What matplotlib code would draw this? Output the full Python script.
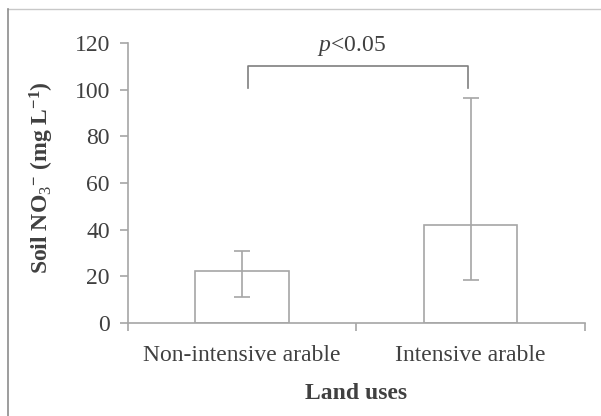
import numpy as np
import matplotlib.pyplot as plt
from matplotlib.lines import Line2D

# values
land_uses = ['Non-intensive arable', 'Intensive arable']
no3_mean = [22.3, 42.0]
err_low = [11.0, 18.4]    # lower end of error bar
err_high = [30.9, 96.4]   # upper end of error bar
y_ticks = [0, 20, 40, 60, 80, 100, 120]

grey = '#a6a6a6'
txt = '#404040'
plt.rcParams['font.family'] = ['Liberation Serif', 'DejaVu Serif']
plt.rcParams['mathtext.fontset'] = 'custom'
plt.rcParams['mathtext.rm'] = 'Liberation Serif'
plt.rcParams['mathtext.it'] = 'Liberation Serif:italic'
plt.rcParams['mathtext.bf'] = 'Liberation Serif:bold'
fs = 17

fig = plt.figure(figsize=(6.01, 4.16), dpi=100)
ax = fig.add_axes([0.213, 0.2236, 0.760, 0.673])

x = np.arange(len(land_uses))
yerr = np.array([np.array(no3_mean) - np.array(err_low),
                 np.array(err_high) - np.array(no3_mean)])
ax.bar(x, no3_mean, width=0.41, color='white', edgecolor=grey, linewidth=1.2, zorder=2)
ax.errorbar(x, no3_mean, yerr=yerr, fmt='none', ecolor=grey, elinewidth=1.2,
            capsize=6, capthick=1.2, zorder=3)

ax.set_xlim(-0.5, 1.5)
ax.set_ylim(0, 120)
ax.set_yticks(y_ticks)
ax.set_xticks(x)
ax.set_xticklabels(land_uses)
ax.set_xticks([-0.5, 0.5, 1.5], minor=True)
ax.tick_params(axis='x', which='major', length=0, pad=16, labelsize=fs, labelcolor=txt)
ax.tick_params(axis='x', which='minor', length=6, width=1.2, color=grey, direction='out')
ax.tick_params(axis='y', length=6, width=1.2, color=grey, direction='out', pad=7,
               labelsize=fs, labelcolor=txt)
for s in ['top', 'right']:
    ax.spines[s].set_visible(False)
for s in ['left', 'bottom']:
    ax.spines[s].set_color(grey)
    ax.spines[s].set_linewidth(1.2)

ax.set_xlabel('Land uses', fontsize=fs, fontweight='bold', color=txt, labelpad=12)
ax.set_ylabel(r'Soil NO$_3$$^{\mathbf{-}}$ (mg L$^{\mathbf{-1}}$)', fontsize=fs,
              fontweight='bold', color=txt)
ax.yaxis.set_label_coords(-0.157, 0.52)

# significance bracket
bx0, bx1, by_top, by_low = 0.025, 0.988, 110, 100.7
ax.plot([bx0, bx0, bx1, bx1], [by_low, by_top, by_top, by_low], color='#7f7f7f',
        linewidth=1.2, clip_on=False)
ax.text(0.48, 113.5, r'$p$<0.05', ha='center', va='bottom', fontsize=fs, color=txt)

# outer frame lines (top and left) as in the source image
fig.add_artist(Line2D([8 / 601, 1], [1 - 9 / 416, 1 - 9 / 416], color='#c8c8c8', linewidth=1))
fig.add_artist(Line2D([8 / 601, 8 / 601], [0, 1 - 9 / 416], color='#8c8c8c', linewidth=1.2))

fig.savefig('out.png', dpi=100)
